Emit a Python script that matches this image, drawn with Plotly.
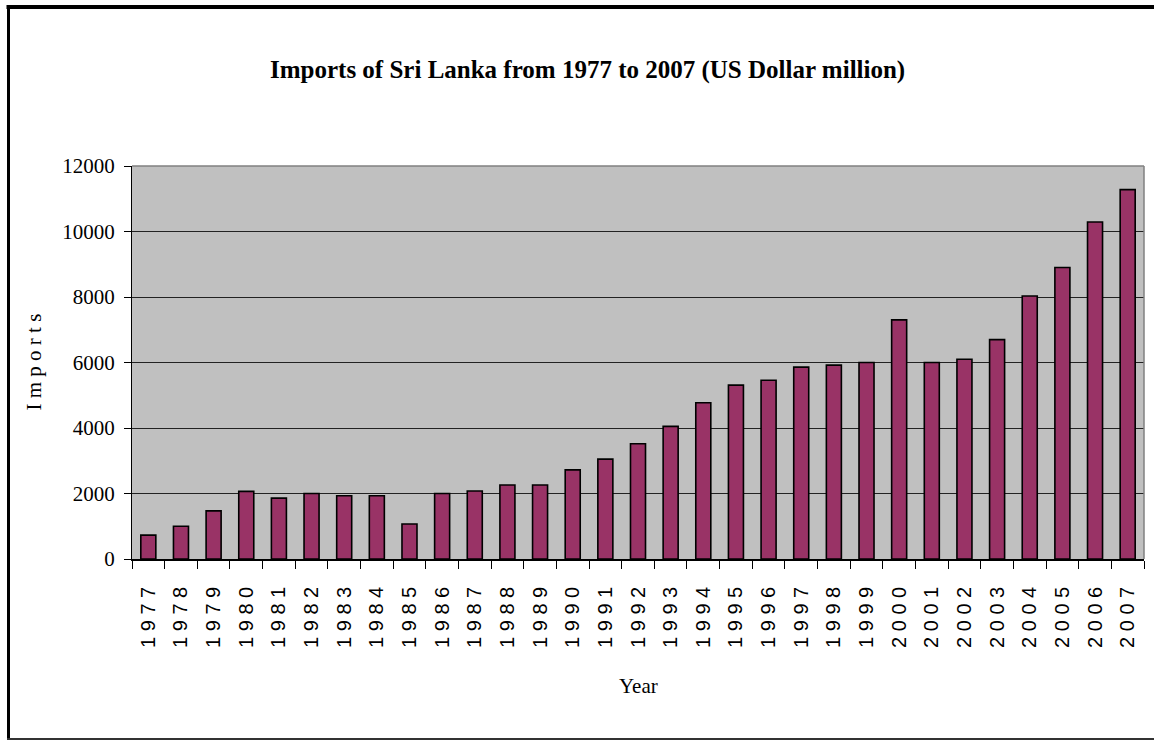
import plotly.graph_objects as go

# Sri Lanka imports, US Dollar million
years = ["1977", "1978", "1979", "1980", "1981", "1982", "1983", "1984",
         "1985", "1986", "1987", "1988", "1989", "1990", "1991", "1992",
         "1993", "1994", "1995", "1996", "1997", "1998", "1999", "2000",
         "2001", "2002", "2003", "2004", "2005", "2006", "2007"]
imports = [730, 1000, 1470, 2065, 1860, 2000, 1930, 1930,
           1070, 2000, 2075, 2260, 2260, 2720, 3050, 3520,
           4050, 4770, 5310, 5460, 5860, 5920, 6000, 7300,
           6000, 6100, 6700, 8030, 8900, 10290, 11280]
y_ticks = [0, 2000, 4000, 6000, 8000, 10000, 12000]

# digits spaced out for the vertical year labels
year_labels = [" ".join(y) for y in years]

W, H = 1154, 740
L, R, T, B = 132, 10, 166, 181
PW, PH = W - L - R, H - T - B


def px_x(px):
    return (px - L) / PW


def px_y(py):
    return (H - B - py) / PH


fig = go.Figure(
    go.Bar(
        x=years,
        y=imports,
        marker=dict(color="#993366", line=dict(color="#000000", width=1.6)),
        hoverinfo="x+y",
    )
)

serif = "Liberation Serif, Times New Roman, serif"

fig.update_layout(
    width=W,
    height=H,
    margin=dict(l=L, r=R, t=T, b=B),
    paper_bgcolor="#FFFFFF",
    plot_bgcolor="#C0C0C0",
    bargap=0.54,
    showlegend=False,
    xaxis=dict(
        type="category",
        tickmode="array",
        tickvals=years,
        ticktext=year_labels,
        tickangle=-90,
        tickfont=dict(family="Liberation Sans, Arial, sans-serif", size=20, color="#000"),
        ticks="outside",
        tickson="boundaries",
        ticklen=8,
        tickwidth=1,
        tickcolor="#000",
        ticklabelstandoff=18,
        showline=True,
        linecolor="#000",
        linewidth=1.5,
        showgrid=False,
        zeroline=False,
    ),
    yaxis=dict(
        range=[0, 12000],
        tickmode="array",
        tickvals=y_ticks,
        ticktext=[str(v) for v in y_ticks],
        tickfont=dict(family=serif, size=21, color="#000"),
        ticks="outside",
        ticklen=7,
        tickwidth=1,
        tickcolor="#000",
        ticklabelstandoff=5,
        showline=True,
        linecolor="#000",
        linewidth=1.2,
        showgrid=True,
        gridcolor="#222222",
        gridwidth=1,
        zeroline=False,
    ),
    annotations=[
        dict(
            text="<b>Imports of Sri Lanka from 1977 to 2007 (US Dollar million)</b>",
            x=px_x(587.5), y=px_y(70), xref="paper", yref="paper",
            xanchor="center", yanchor="middle", showarrow=False,
            font=dict(family=serif, size=25, color="#000"),
        ),
        dict(
            text="I m p o r t s",
            x=px_x(33), y=0.5, xref="paper", yref="paper",
            xanchor="center", yanchor="middle", showarrow=False,
            textangle=-90,
            font=dict(family=serif, size=21, color="#000"),
        ),
        dict(
            text="Year",
            x=px_x(638), y=px_y(686), xref="paper", yref="paper",
            xanchor="center", yanchor="middle", showarrow=False,
            font=dict(family=serif, size=21, color="#000"),
        ),
    ],
    shapes=[
        # plot area top and right edges
        dict(type="line", xref="paper", yref="paper", x0=0, x1=1, y0=1, y1=1,
             line=dict(color="#808080", width=1.5)),
        dict(type="line", xref="paper", yref="paper", x0=1, x1=1, y0=0, y1=1,
             line=dict(color="#808080", width=1.5)),
        # chart frame
        dict(type="line", xref="paper", yref="paper",
             x0=px_x(6.5), x1=px_x(1170), y0=px_y(7), y1=px_y(7),
             line=dict(color="#000", width=4)),
        dict(type="line", xref="paper", yref="paper",
             x0=px_x(8.5), x1=px_x(8.5), y0=px_y(5), y1=px_y(739),
             line=dict(color="#000", width=3)),
        dict(type="line", xref="paper", yref="paper",
             x0=px_x(7), x1=px_x(1170), y0=px_y(739), y1=px_y(739),
             line=dict(color="#333", width=2)),
    ],
)

fig.write_html("out.html")
